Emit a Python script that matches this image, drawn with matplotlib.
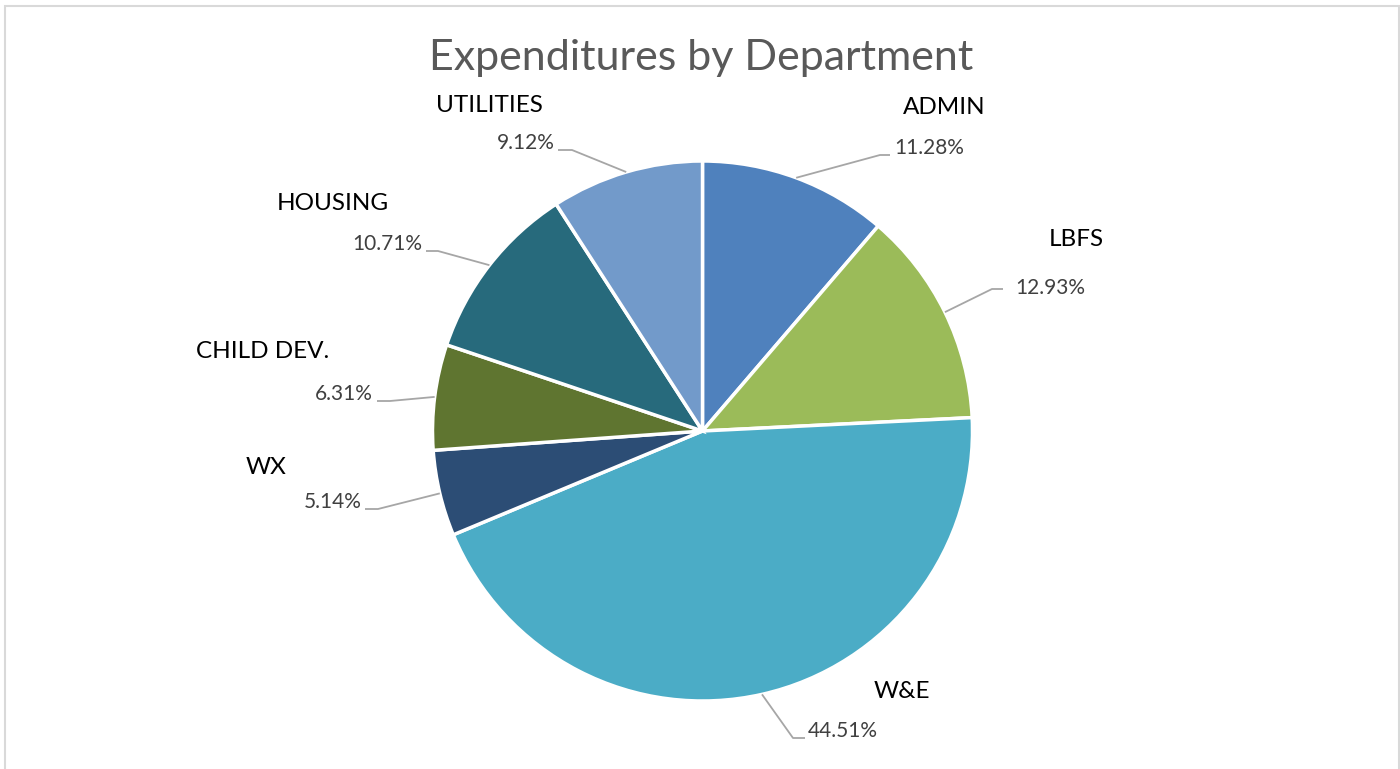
import numpy as np
import matplotlib
matplotlib.use("Agg")
import matplotlib.pyplot as plt
from matplotlib.patches import Rectangle

# Department spending shares (percent)
departments = ["ADMIN", "LBFS", "W&E", "WX", "CHILD DEV.", "HOUSING", "UTILITIES"]
shares = [11.28, 12.93, 44.51, 5.14, 6.31, 10.71, 9.12]
colors = ["#4F81BD", "#9BBB59", "#4BACC6", "#2C4D75", "#5F7530", "#276A7C", "#729ACA"]

W, H = 1400, 769
fig = plt.figure(figsize=(W / 100, H / 100), dpi=100)
ax = fig.add_axes([0, 0, 1, 1])

def py(y):
    # convert a top-down pixel row into the axes' bottom-up coordinate
    return H - y

cx, cy, R = 702.5, py(431), 270
wedges, _ = ax.pie(shares, colors=colors, startangle=90, counterclock=False,
                   center=(cx, cy), radius=R,
                   wedgeprops=dict(edgecolor="white", linewidth=2.5))
ax.set_xlim(0, W)
ax.set_ylim(0, H)
ax.set_aspect("auto")
ax.axis("off")

# light chart-area border
ax.add_patch(Rectangle((5, py(775)), 1394, 769, fill=False,
                       edgecolor="#D9D9D9", linewidth=1.5, clip_on=False))

ax.text(701, py(58), "Expenditures by Department", ha="center", va="center",
        fontsize=31, color="#595959", family="Lato")

# label layout: (name centre), (percent anchor x, y, ha), (elbow point), (line end)
layout = {
    "ADMIN":      ((944, 108), (894, 148, "left"),  (880, 155), (890, 155)),
    "LBFS":       ((1076, 239), (1015, 288, "left"), (992, 289), (1003, 289)),
    "W&E":        ((902, 692), (808, 731, "left"),  (793, 738), (805, 738)),
    "WX":         ((266, 468), (362, 502, "right"), (378, 509), (365, 509)),
    "CHILD DEV.": ((263, 351), (373, 394, "right"), (390, 401), (377, 401)),
    "HOUSING":    ((333, 204), (422, 244, "right"), (438, 251), (426, 251)),
    "UTILITIES":  ((489, 106), (555, 143, "right"), (572, 150), (558, 150)),
}

for w, name, val in zip(wedges, departments, shares):
    mid = np.deg2rad((w.theta1 + w.theta2) / 2)
    ex, ey = cx + R * np.cos(mid), cy + R * np.sin(mid)
    (nx, ny), (tx, ty, ha), (bx, by), (lx, ly) = layout[name]
    ax.plot([ex, bx, lx], [ey, py(by), py(ly)], color="#A6A6A6", linewidth=1.3,
            solid_capstyle="butt")
    ax.text(nx, py(ny), name, ha="center", va="center", fontsize=17.5,
            color="#000000", family="Lato")
    ax.text(tx, py(ty), f"{val:.2f}%", ha=ha, va="center", fontsize=15,
            color="#404040", family="Lato")

fig.savefig("out.png", dpi=100, facecolor="white")
